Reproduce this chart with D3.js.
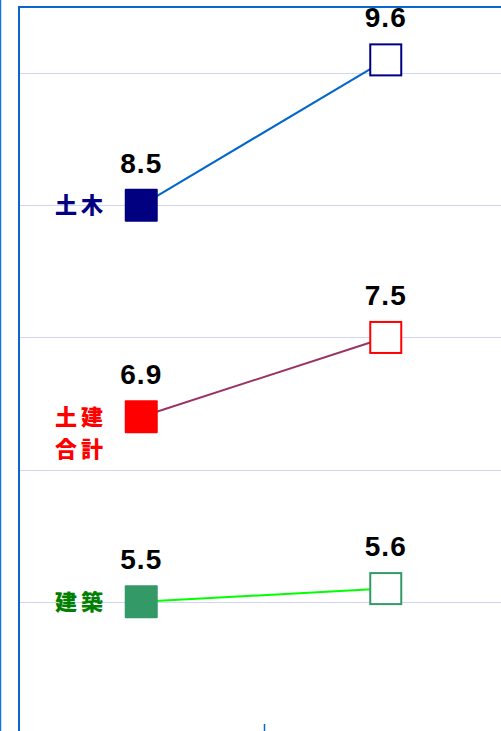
<!DOCTYPE html>
<html>
<head>
<meta charset="utf-8">
<script src="https://cdn.jsdelivr.net/npm/d3@7"></script>
<style>
html,body{margin:0;padding:0;background:#fff;overflow:hidden;}
svg{display:block;}
</style>
</head>
<body>
<svg id="chart" width="501" height="731"></svg>
<script>
const periods = ["前期", "今期"];
const seriesNames = ["土木", "土建合計", "建築"];
const labelLines = [["土木"], ["土建", "合計"], ["建築"]];
const valuesBefore = [8.5, 6.9, 5.5];
const valuesAfter = [9.6, 7.5, 5.6];
const gridValues = [9.5, 8.5, 7.5, 6.5, 5.5];
const markerColors = ["#000080", "#ff0000", "#339966"];
const lineColors = ["#0066cc", "#993366", "#00ff00"];
const labelColors = ["#000080", "#ff0000", "#008000"];

(function () {
const svg = d3.select("#chart");
const pTop = 7, pBottom = 734, pLeft = 19, pRight = 508;

const x = d3.scaleBand().domain(periods).range([pLeft, pRight]).padding(0);
const y = d3.scaleLinear().domain([4.5, 10]).range([pBottom, pTop]);

// outer left line
svg.append("line").attr("x1", 0.5).attr("x2", 0.5).attr("y1", 0).attr("y2", 731)
  .attr("stroke", "#1a73d6").attr("stroke-width", 1.5);

// gridlines
svg.append("g").selectAll("line").data(gridValues).join("line")
  .attr("x1", pLeft).attr("x2", pRight)
  .attr("y1", d => Math.round(y(d)) + 0.5).attr("y2", d => Math.round(y(d)) + 0.5)
  .attr("stroke", "#d4d4f4").attr("stroke-width", 1);

// frame
svg.append("line").attr("x1", pLeft).attr("x2", pLeft).attr("y1", pTop).attr("y2", 740)
  .attr("stroke", "#0a66cc").attr("stroke-width", 2);
svg.append("line").attr("x1", pLeft - 1).attr("x2", 510).attr("y1", pTop).attr("y2", pTop)
  .attr("stroke", "#0a66cc").attr("stroke-width", 2);

// bottom axis tick at band boundary
svg.append("line").attr("x1", Math.round(x(periods[1])) + 0.5).attr("x2", Math.round(x(periods[1])) + 0.5)
  .attr("y1", pBottom - 10).attr("y2", pBottom)
  .attr("stroke", "#0a66cc").attr("stroke-width", 1.5);

const cx = p => x(p) + x.bandwidth() / 2;
const size = 33;

seriesNames.forEach((name, i) => {
  const g = svg.append("g");
  const pts = [[periods[0], valuesBefore[i]], [periods[1], valuesAfter[i]]];
  g.append("path")
    .attr("d", d3.line().x(d => cx(d[0])).y(d => y(d[1]))(pts))
    .attr("stroke", lineColors[i]).attr("stroke-width", 2).attr("fill", "none");
  g.append("rect")
    .attr("x", cx(periods[0]) - size / 2).attr("y", y(valuesBefore[i]) - size / 2)
    .attr("width", size).attr("height", size).attr("rx", 1)
    .attr("fill", markerColors[i]);
  g.append("rect")
    .attr("x", cx(periods[1]) - size / 2 + 1).attr("y", y(valuesAfter[i]) - size / 2 + 1)
    .attr("width", size - 2).attr("height", size - 2)
    .attr("fill", "#fff").attr("stroke", markerColors[i]).attr("stroke-width", 2);
  pts.forEach(d => {
    g.append("text")
      .attr("x", cx(d[0])).attr("y", y(d[1]) - size / 2 - 16)
      .attr("text-anchor", "middle")
      .attr("font-family", "Liberation Sans, Arial, sans-serif")
      .attr("font-weight", "bold").attr("font-size", 28)
      .attr("letter-spacing", 1)
      .attr("fill", "#000")
      .text(d3.format(".1f")(d[1]));
  });
  const lines = labelLines[i];
  const t = g.append("text")
    .attr("font-family", "Noto Sans CJK JP, sans-serif")
    .attr("font-weight", 900).attr("font-size", 22)
    .attr("letter-spacing", 4)
    .attr("fill", labelColors[i])
    .attr("text-anchor", "middle");
  lines.forEach((ln, k) => {
    t.append("tspan").attr("x", 81).attr("y", y(valuesBefore[i]) + 8 + k * 32).text(ln);
  });
});
})();
</script>
</body>
</html>
